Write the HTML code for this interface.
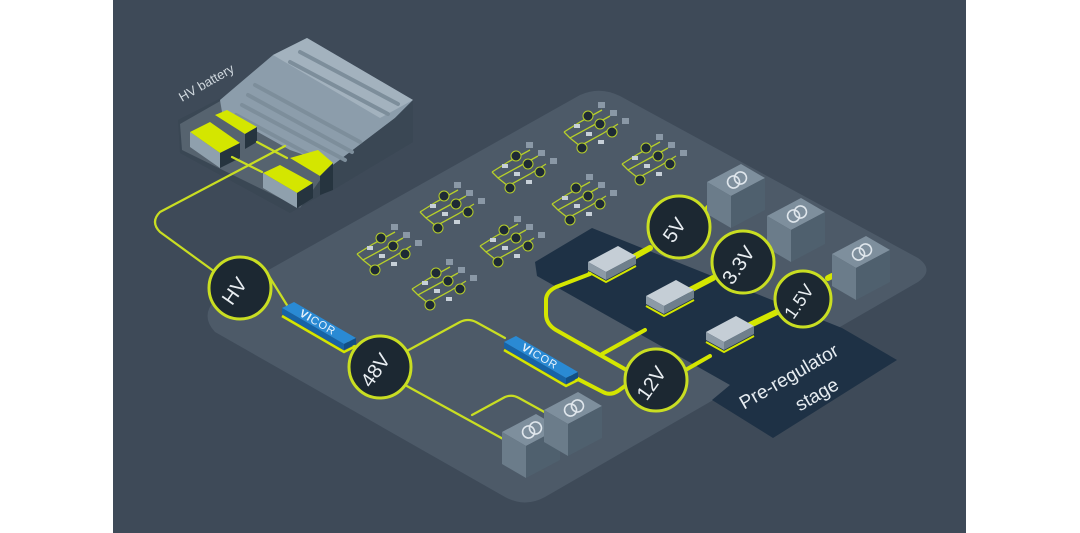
<!DOCTYPE html>
<html><head><meta charset="utf-8"><style>
html,body{margin:0;padding:0;background:#fff;width:1080px;height:533px;overflow:hidden}
svg{display:block}
text{font-family:"Liberation Sans",sans-serif}
</style></head><body>
<svg width="1080" height="533" viewBox="0 0 1080 533" xmlns="http://www.w3.org/2000/svg">
<defs>
<g id="cl">
 <path d="M-28 14 L-12 4 L10 -8 M-28 14 L-22 20 L0 8 L18 -2 M-22 20 L-12 28 L10 16 L26 6 M-12 28 L-10 34" stroke="#b7cf2a" stroke-width="1.3" fill="none"/>
 <circle cx="-4" cy="-2" r="5" fill="#1e2a35" stroke="#b7cf2a"/>
 <circle cx="8" cy="6" r="5" fill="#1e2a35" stroke="#b7cf2a"/>
 <circle cx="20" cy="14" r="5" fill="#1e2a35" stroke="#b7cf2a"/>
 <circle cx="-10" cy="30" r="5" fill="#1e2a35" stroke="#b7cf2a"/>
 <rect x="6" y="-16" width="7" height="6" fill="#8a98a6"/><rect x="18" y="-8" width="7" height="6" fill="#8a98a6"/><rect x="30" y="0" width="7" height="6" fill="#8a98a6"/>
 <rect x="-18" y="6" width="6" height="4" fill="#c7d0d8"/><rect x="-6" y="14" width="6" height="4" fill="#c7d0d8"/><rect x="6" y="22" width="6" height="4" fill="#c7d0d8"/>
</g>
<g id="tr">
 <polygon points="-28,-8 6,-26 30,-12 -4,6" fill="#7e8f9d"/>
 <polygon points="-28,-8 -4,6 -4,38 -28,24" fill="#6b7c8a"/>
 <polygon points="-4,6 30,-12 30,20 -4,38" fill="#4f606e"/>
 <g transform="translate(2,-10) rotate(-30)" fill="none" stroke="#dfe6ec" stroke-width="1.6"><circle cx="-4" cy="0" r="6"/><circle cx="4" cy="0" r="6"/></g>
</g>
<g id="rg">
 <polygon points="-22,-4 8,-20 26,-10 -4,6" fill="#c5ced6"/>
 <polygon points="-22,-4 -4,6 -4,14 -22,4" fill="#8c9aa6"/>
 <polygon points="-4,6 26,-10 26,-2 -4,14" fill="#6f7f8c"/>
 <path d="M-22,6 L-4,16 L26,0" stroke="#d4e600" stroke-width="2" fill="none"/>
</g>
<g id="vc">
 <polygon points="-36,-14 -24,-20 38,16 26,22" fill="#2a8ad4"/>
 <polygon points="-36,-14 26,22 26,28 -36,-8" fill="#1763a6"/>
 <polygon points="26,22 38,16 38,22 26,28" fill="#124f86"/>
 <path d="M-36,-6 L26,30 L38,24" stroke="#d4e600" stroke-width="2.5" fill="none"/>
 <text x="0" y="4" transform="rotate(30)" font-size="11" fill="#e8f2fb" text-anchor="middle" letter-spacing="1"><tspan font-weight="bold">VI</tspan>COR</text>
</g>
</defs>
<rect x="0" y="0" width="1080" height="533" fill="#fff"/>
<rect x="113" y="0" width="853" height="533" fill="#3e4a58"/>
<!-- platform -->
<path d="M215 300 L580 95 Q600 86 620 96 L918 258 Q935 270 918 282 L545 497 Q525 508 505 497 L215 332 Q200 316 215 300 Z" fill="#4d5a68"/>
<!-- preregulator dark -->
<path d="M535 262 L592 228 L842 328 L897 360 L773 438 L712 400 L730 385 L537 276 Z" fill="#1e3145"/>
<text transform="translate(792,382) rotate(-30)" font-size="19" fill="#e6ecf1" text-anchor="middle">Pre-regulator</text>
<text transform="translate(820,400) rotate(-30)" font-size="19" fill="#e6ecf1" text-anchor="middle">stage</text>
<!-- battery -->
<polygon points="178,120 225,96 413,100 413,142 290,213 180,153" fill="#3a4754"/>
<polygon points="180,124 222,100 333,162 300,208 182,150" fill="#56636f"/>
<polygon points="220,100 273,55 307,38 413,100 395,118 333,165 290,150 222,112" fill="#8c9dab"/>
<polygon points="273,55 307,38 413,100 380,118" fill="#a3b2be"/>
<polygon points="333,165 395,118 413,100 413,142 333,190" fill="#3a4754"/>
<g stroke="#7d8e9b" stroke-width="4" stroke-linecap="round">
<line x1="300" y1="52" x2="398" y2="104"/><line x1="290" y1="62" x2="388" y2="114"/>
<line x1="255" y1="85" x2="360" y2="142"/><line x1="248" y1="95" x2="352" y2="152"/><line x1="242" y1="105" x2="345" y2="160"/><line x1="236" y1="115" x2="330" y2="166"/>
</g>
<polygon points="190,132 210,122 240,143 220,153" fill="#d4e600"/>
<polygon points="190,132 220,153 220,168 190,147" fill="#8fa0ad"/>
<polygon points="220,153 240,143 240,158 220,168" fill="#26343f"/>
<polygon points="215,115 227,110 257,127 245,134" fill="#d4e600"/>
<polygon points="245,134 257,127 257,142 245,149" fill="#26343f"/>
<polygon points="263,173 280,165 313,183 297,193" fill="#d4e600"/>
<polygon points="263,173 297,193 297,208 263,188" fill="#8fa0ad"/>
<polygon points="297,193 313,183 313,198 297,208" fill="#26343f"/>
<polygon points="290,158 318,150 333,163 320,176" fill="#d4e600"/>
<polygon points="320,176 333,163 333,190 320,195" fill="#26343f"/>
<text transform="translate(182,102) rotate(-30)" font-size="13" fill="#d0d8de">HV battery</text>
<!-- connections -->
<g stroke="#c9de22" stroke-width="2.2" fill="none" stroke-linecap="round" stroke-linejoin="round">
<path d="M285 146 L160 212 Q150 222 160 232 L215 272"/>
<path d="M232 157 L262 172 M257 142 L287 158"/>
<path d="M264 268 L290 310"/>
<path d="M348 340 L360 352"/>
<path d="M405 352 L460 322 Q468 318 476 322 L505 338"/>
<path d="M405 385 L505 440"/>
<path d="M472 415 L505 397 Q512 394 519 398 L548 414"/>
</g>
<g stroke="#d4e600" stroke-width="4" fill="none" stroke-linecap="round" stroke-linejoin="round">
<path d="M572 376 L603 392 Q610 396 618 391 L625 386"/>
<path d="M630 372 L556 330 Q546 324 546 314 L546 300 Q546 292 556 287 L590 274"/>
<path d="M602 354 L645 330"/>
<path d="M682 372 L710 356"/>
</g>
<g stroke="#d4e600" stroke-width="6" fill="none" stroke-linecap="round">
<path d="M632 258 L650 248 M708 208 L712 205"/>
<path d="M690 290 L713 278 M772 240 L776 238"/>
<path d="M750 325 L777 312 M828 278 L832 276"/>
</g>
<!-- clusters -->
<use href="#cl" x="385" y="240"/><use href="#cl" x="448" y="198"/><use href="#cl" x="520" y="158"/><use href="#cl" x="592" y="118"/>
<use href="#cl" x="440" y="275"/><use href="#cl" x="508" y="232"/><use href="#cl" x="580" y="190"/><use href="#cl" x="650" y="150"/>
<!-- components -->
<use href="#vc" x="318" y="322"/><use href="#vc" x="540" y="356"/>
<use href="#rg" x="610" y="266"/><use href="#rg" x="668" y="300"/><use href="#rg" x="728" y="336"/>
<use href="#tr" x="735" y="190"/><use href="#tr" x="795" y="224"/><use href="#tr" x="860" y="262"/>
<use href="#tr" x="530" y="440"/><use href="#tr" x="572" y="418"/>
<!-- nodes -->
<g stroke="#c9de22" stroke-width="3" fill="#1c2832">
<circle cx="240" cy="288" r="31"/><circle cx="380" cy="367" r="31"/><circle cx="656" cy="380" r="31"/>
<circle cx="679" cy="227" r="31"/><circle cx="743" cy="262" r="31"/><circle cx="803" cy="299" r="28"/>
</g>
<g fill="#e9eef2" font-size="20" text-anchor="middle">
<text transform="translate(240,295) rotate(-55)">HV</text>
<text transform="translate(381,374) rotate(-55)">48V</text>
<text transform="translate(657,387) rotate(-55)">12V</text>
<text transform="translate(680,234) rotate(-55)">5V</text>
<text transform="translate(744,269) rotate(-55)">3.3V</text>
<text transform="translate(804,305) rotate(-55)" font-size="18">1.5V</text>
</g>
</svg>
</body></html>
